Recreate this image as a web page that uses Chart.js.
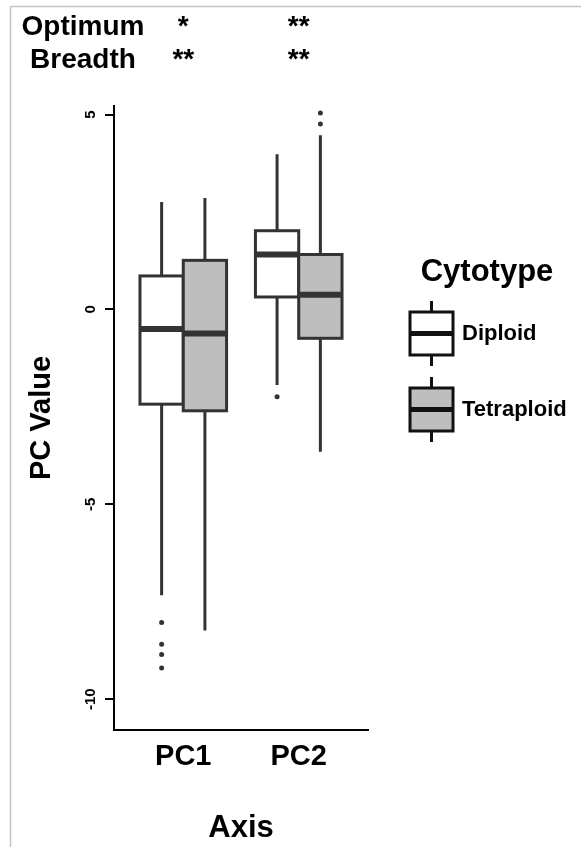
<!DOCTYPE html>
<html>
<head>
<meta charset="utf-8">
<script src="https://cdn.jsdelivr.net/npm/chart.js@4"></script>
<style>
    html, body { margin: 0; padding: 0; background: #fff; }
</style>
</head>
<body>
<canvas id="boxChart" width="581" height="847"></canvas>
<script>
// Datos
const categories = ['PC1', 'PC2'];
const groups = ['Diploid', 'Tetraploid'];
const groupFill = ['#ffffff', '#bebebe'];

// [min, q1, mediana, q3, max] por categoría
const diploidStats = [
    [-7.33, -2.43, -0.50, 0.86, 2.76],
    [-1.94, 0.32, 1.41, 2.02, 3.98]
];
const tetraploidStats = [
    [-8.24, -2.60, -0.62, 1.26, 2.86],
    [-3.65, -0.74, 0.38, 1.41, 4.47]
];
const diploidOutliers = [[-8.03, -8.59, -8.85, -9.20], [-2.24]];
const tetraploidOutliers = [[], [4.76, 5.04]];

const yTicks = [-10, -5, 0, 5];
const annotRows = ['Optimum', 'Breadth'];
const optimumStars = ['*', '**'];
const breadthStars = ['**', '**'];

const FONT = '"Liberation Sans", Arial, sans-serif';
const DODGE = 0.1875;
const BOX_COLOR = '#333333';

function outlierPoints(list, offset) {
    const pts = [];
    list.forEach((vals, i) => vals.forEach(v => pts.push({ x: i + 1 + offset, y: v })));
    return pts;
}

function drawBox(ctx, xs, ys, xc, st, fill) {
    const left = xs.getPixelForValue(xc - DODGE);
    const right = xs.getPixelForValue(xc + DODGE);
    const mid = xs.getPixelForValue(xc);
    const [mn, q1, med, q3, mx] = st.map(v => ys.getPixelForValue(v));
    ctx.strokeStyle = BOX_COLOR;
    ctx.lineWidth = 3;
    // bigotes
    ctx.beginPath();
    ctx.moveTo(mid, q3); ctx.lineTo(mid, mx);
    ctx.moveTo(mid, q1); ctx.lineTo(mid, mn);
    ctx.stroke();
    // caja
    ctx.fillStyle = fill;
    ctx.fillRect(left, q3, right - left, q1 - q3);
    ctx.strokeRect(left, q3, right - left, q1 - q3);
    // mediana
    ctx.lineWidth = 6;
    ctx.beginPath();
    ctx.moveTo(left, med); ctx.lineTo(right, med);
    ctx.stroke();
}

const boxPlugin = {
    id: 'boxPlugin',
    beforeDraw(chart) {
        const ctx = chart.ctx;
        ctx.save();
        ctx.strokeStyle = '#c4c4c4';
        ctx.lineWidth = 1.5;
        ctx.beginPath();
        ctx.moveTo(10.5, 847); ctx.lineTo(10.5, 6.5); ctx.lineTo(581, 6.5);
        ctx.stroke();
        ctx.restore();
    },
    beforeDatasetsDraw(chart) {
        const ctx = chart.ctx;
        const xs = chart.scales.x, ys = chart.scales.y;
        ctx.save();
        [diploidStats, tetraploidStats].forEach((stats, g) => {
            const off = g === 0 ? -DODGE : DODGE;
            stats.forEach((st, i) => drawBox(ctx, xs, ys, i + 1 + off, st, groupFill[g]));
        });
        ctx.restore();
    },
    afterDraw(chart) {
        const ctx = chart.ctx;
        const xs = chart.scales.x, ys = chart.scales.y;
        ctx.save();
        ctx.fillStyle = '#000';
        // etiquetas del eje y, giradas
        ctx.font = 'bold 15px ' + FONT;
        ctx.textAlign = 'center';
        ctx.textBaseline = 'middle';
        yTicks.forEach(v => {
            ctx.save();
            ctx.translate(91, ys.getPixelForValue(v));
            ctx.rotate(-Math.PI / 2);
            ctx.fillText(String(v), 0, 0);
            ctx.restore();
        });
        ctx.textBaseline = 'alphabetic';
        // anotaciones superiores
        ctx.font = 'bold 28px ' + FONT;
        const rowBase = [35, 68];
        [optimumStars, breadthStars].forEach((stars, r) => {
            ctx.fillText(annotRows[r], 83, rowBase[r]);
            stars.forEach((s, i) => ctx.fillText(s, xs.getPixelForValue(i + 1), rowBase[r]));
        });
        // leyenda
        ctx.font = 'bold 31px ' + FONT;
        ctx.fillText('Cytotype', 487, 281);
        ctx.font = 'bold 22px ' + FONT;
        ctx.textAlign = 'left';
        ctx.textBaseline = 'middle';
        groups.forEach((g, k) => {
            const top = 312 + k * 76;
            const cx = 431.5;
            ctx.strokeStyle = '#111';
            ctx.lineWidth = 3;
            ctx.beginPath();
            ctx.moveTo(cx, top - 11); ctx.lineTo(cx, top);
            ctx.moveTo(cx, top + 43); ctx.lineTo(cx, top + 54);
            ctx.stroke();
            ctx.fillStyle = groupFill[k];
            ctx.fillRect(410, top, 43, 43);
            ctx.strokeRect(410, top, 43, 43);
            ctx.lineWidth = 5;
            ctx.beginPath();
            ctx.moveTo(410, top + 21.5); ctx.lineTo(453, top + 21.5);
            ctx.stroke();
            ctx.fillStyle = '#000';
            ctx.fillText(g, 462, top + 22);
        });
        ctx.restore();
    }
};

new Chart(document.getElementById('boxChart').getContext('2d'), {
    type: 'scatter',
    data: {
        datasets: [
            { label: groups[0], data: outlierPoints(diploidOutliers, -DODGE), pointRadius: 2.5, backgroundColor: BOX_COLOR, borderWidth: 0 },
            { label: groups[1], data: outlierPoints(tetraploidOutliers, DODGE), pointRadius: 2.5, backgroundColor: BOX_COLOR, borderWidth: 0 }
        ]
    },
    options: {
        responsive: false,
        animation: false,
        devicePixelRatio: 1,
        layout: { padding: { left: 0, top: 106, right: 213, bottom: 0 } },
        plugins: { legend: { display: false }, tooltip: { enabled: false } },
        scales: {
            x: {
                type: 'linear',
                min: 0.4,
                max: 2.6,
                afterBuildTicks: s => { s.ticks = categories.map((c, i) => ({ value: i + 1 })); },
                afterFit: s => { s.height = 117; },
                ticks: {
                    callback: v => categories[Math.round(v) - 1],
                    font: { family: FONT, size: 29, weight: 'bold' },
                    color: '#000',
                    padding: 10
                },
                grid: { display: false, drawTicks: false },
                border: { display: true, color: '#000', width: 2 },
                title: {
                    display: true,
                    text: 'Axis',
                    color: '#000',
                    font: { family: FONT, size: 31, weight: 'bold' },
                    padding: { top: 0, bottom: 0 }
                }
            },
            y: {
                min: -10.79,
                max: 5.22,
                afterBuildTicks: s => { s.ticks = yTicks.map(v => ({ value: v })); },
                afterFit: s => { s.width = 114; },
                // las etiquetas se dibujan giradas en el plugin
                ticks: { display: false },
                grid: { drawOnChartArea: false, tickLength: 9, color: '#000', lineWidth: 2 },
                border: { display: true, color: '#000', width: 2 },
                title: {
                    display: true,
                    text: 'PC Value',
                    color: '#000',
                    font: { family: FONT, size: 29, weight: 'bold' },
                    padding: { top: 25, bottom: 0 }
                }
            }
        }
    },
    plugins: [boxPlugin]
});
</script>
</body>
</html>
